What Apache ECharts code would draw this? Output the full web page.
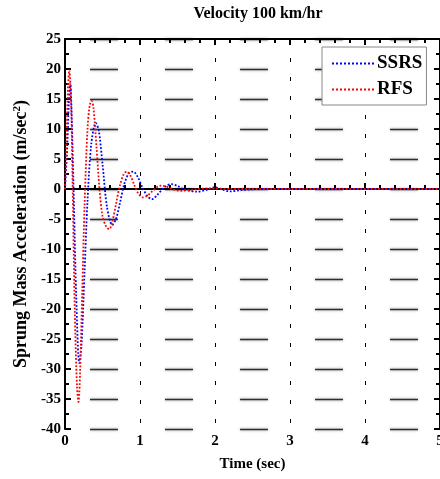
<!DOCTYPE html>
<html>
<head>
<meta charset="utf-8">
<script src="https://cdn.jsdelivr.net/npm/echarts@6/dist/echarts.min.js"></script>
<style>html,body{margin:0;padding:0;background:#fff;}#c{width:440px;height:479px;}</style>
</head>
<body>
<div id="c"></div>
<script>
const titleText = 'Velocity 100 km/hr';
const xName = 'Time (sec)';
const yName = 'Sprung Mass Acceleration (m/sec{sup|2})';
const seriesNames = ['SSRS', 'RFS'];

const timeSSRS = [0, 0.03, 0.05, 0.07, 0.09, 0.12, 0.15, 0.19, 0.22, 0.26, 0.3, 0.35, 0.41, 0.45, 0.5, 0.56, 0.63, 0.68, 0.73, 0.79, 0.85, 0.91, 0.97, 1.03, 1.1, 1.16, 1.23, 1.3, 1.36, 1.42, 1.5, 1.6, 1.76, 1.9, 2.0, 2.1, 2.2, 2.35, 2.6, 3, 4, 5];
const valSSRS  = [0, 7, 14, 17.6, 12, -3, -18, -29, -26, -14, -2, 7.5, 11, 9.8, 4.2, -3, -6, -5, -2.5, 0.8, 2.6, 2.9, 2, 0.3, -1.2, -1.7, -1, 0, 0.6, 0.8, 0.5, -0.1, -0.45, -0.1, 0.3, -0.1, -0.4, -0.2, 0, 0, 0, 0];

const timeRFS = [0, 0.02, 0.04, 0.057, 0.08, 0.1, 0.13, 0.16, 0.18, 0.2, 0.23, 0.26, 0.3, 0.33, 0.356, 0.38, 0.42, 0.46, 0.5, 0.55, 0.59, 0.63, 0.68, 0.73, 0.78, 0.82, 0.87, 0.92, 0.97, 1.04, 1.1, 1.17, 1.27, 1.35, 1.45, 1.55, 1.7, 1.9, 2.2, 3, 4, 5];
const valRFS  = [0, 8, 17, 19.8, 15, 2, -20, -33, -35.5, -31, -17, -3, 10, 14, 14.7, 13.5, 7, 0, -4.5, -6.3, -6.7, -5.5, -2.5, 0.5, 2.4, 2.9, 2.3, 0.8, -0.6, -1.4, -1.1, -0.3, 0.55, 0.4, -0.1, -0.3, -0.1, 0.1, 0, 0, 0, 0];

const xMin = 0, xMax = 5, xStep = 1;
const yMin = -40, yMax = 25, yStep = 5;

const pairs = (t, v) => t.map((x, i) => [x, v[i]]);
const FONT = 'Liberation Serif';

const chart = echarts.init(document.getElementById('c'), null, {renderer: 'canvas'});
const axisTickIn = {show: true, inside: true, length: 6, lineStyle: {color: '#000', width: 2}};
const minorIn = {show: true, splitNumber: 5, length: 4, lineStyle: {color: '#000', width: 2}};
chart.setOption({
  animation: false,
  backgroundColor: '#fff',
  textStyle: {fontFamily: FONT},
  title: {
    text: titleText, left: 253, top: 1, textAlign: 'center',
    textStyle: {fontFamily: FONT, fontWeight: 'bold', fontSize: 16, color: '#000'}
  },
  legend: {
    orient: 'vertical', left: 322, top: 47,
    backgroundColor: '#fff', borderColor: '#888', borderWidth: 1,
    padding: [7, 4, 6, 9], itemGap: 7, itemWidth: 42, itemHeight: 10,
    itemStyle: {opacity: 0},
    textStyle: {fontFamily: FONT, fontWeight: 'bold', fontSize: 19, color: '#000', padding: [0, 0, 0, -2]},
    data: seriesNames
  },
  grid: {left: 65, right: 0, top: 39, bottom: 50, containLabel: false, outerBoundsMode: 'none'},
  xAxis: [{
    type: 'value', min: xMin, max: xMax, interval: xStep,
    name: xName, nameLocation: 'middle', nameGap: 28,
    nameTextStyle: {fontFamily: FONT, fontWeight: 'bold', fontSize: 15, color: '#000'},
    axisLine: {show: true, lineStyle: {color: '#000', width: 2}},
    axisTick: axisTickIn, minorTick: minorIn,
    axisLabel: {fontFamily: FONT, fontWeight: 'bold', fontSize: 15, color: '#000', margin: 5},
    splitLine: {show: true, lineStyle: {color: '#000', width: 1, type: [4, 15]}}
  }, {
    type: 'value', position: 'top', min: xMin, max: xMax, interval: xStep,
    axisLine: {show: true, onZero: false, lineStyle: {color: '#000', width: 2}},
    axisTick: axisTickIn, minorTick: minorIn,
    axisLabel: {show: false}, splitLine: {show: false}
  }],
  yAxis: [{
    type: 'value', min: yMin, max: yMax, interval: yStep,
    name: yName, nameLocation: 'middle', nameGap: 33,
    nameTextStyle: {fontFamily: FONT, fontWeight: 'bold', fontSize: 18, color: '#000',
      rich: {sup: {fontFamily: FONT, fontWeight: 'bold', fontSize: 11, color: '#000', verticalAlign: 'top', padding: [0, 0, 6, 0]}}},
    axisLine: {show: true, onZero: false, lineStyle: {color: '#000', width: 2}},
    axisTick: axisTickIn, minorTick: Object.assign({}, minorIn, {splitNumber: 2}),
    axisLabel: {fontFamily: FONT, fontWeight: 'bold', fontSize: 15, color: '#000', margin: 4},
    splitLine: {show: true, lineStyle: {color: '#111', width: 1.3, opacity: 0.85, type: [28, 47], dashOffset: 50,
      shadowBlur: 3, shadowColor: 'rgba(0,0,0,0.5)'}}
  }, {
    type: 'value', position: 'right', min: yMin, max: yMax, interval: yStep,
    axisLine: {show: true, onZero: false, lineStyle: {color: '#000', width: 2}},
    axisTick: axisTickIn, minorTick: Object.assign({}, minorIn, {splitNumber: 2}),
    axisLabel: {show: false}, splitLine: {show: false}
  }],
  series: [{
    name: seriesNames[0], type: 'line', data: pairs(timeSSRS, valSSRS),
    symbol: 'none', smooth: 0.3, z: 3,
    itemStyle: {color: '#0000ff'},
    lineStyle: {color: '#0000ff', width: 1.8, type: 'dotted'}
  }, {
    name: seriesNames[1], type: 'line', data: pairs(timeRFS, valRFS),
    symbol: 'none', smooth: 0.3, z: 4,
    itemStyle: {color: '#ff0000'},
    lineStyle: {color: '#ff0000', width: 1.8, type: 'dotted'}
  }]
});
</script>
</body>
</html>
